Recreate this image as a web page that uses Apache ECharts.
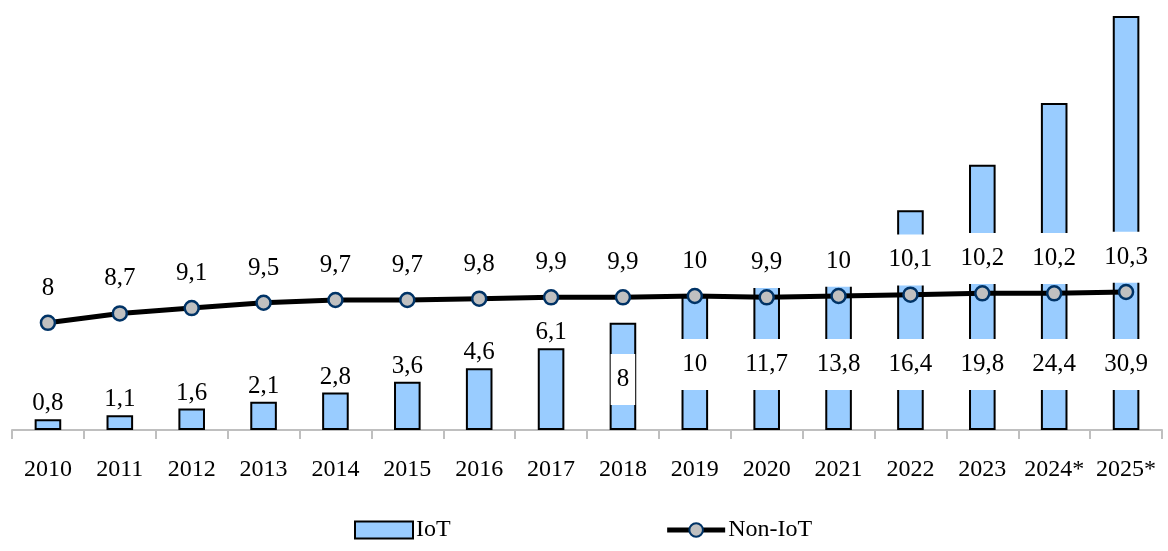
<!DOCTYPE html>
<html>
<head>
<meta charset="utf-8">
<script src="https://cdn.jsdelivr.net/npm/echarts@6/dist/echarts.min.js"></script>
<style>
    html, body { margin: 0; padding: 0; background: #fff; }
    #chart { width: 1168px; height: 551px; }
</style>
</head>
<body>
<div id="chart"></div>
<script>
// Chart data
// ------------------------------

var years = ['2010', '2011', '2012', '2013', '2014', '2015', '2016', '2017',
             '2018', '2019', '2020', '2021', '2022', '2023', '2024*', '2025*'];
var iotValues = [0.8, 1.1, 1.6, 2.1, 2.8, 3.6, 4.6, 6.1, 8, 10, 11.7, 13.8, 16.4, 19.8, 24.4, 30.9];
var nonIotValues = [8, 8.7, 9.1, 9.5, 9.7, 9.7, 9.8, 9.9, 9.9, 10, 9.9, 10, 10.1, 10.2, 10.2, 10.3];

var FONT = '"Liberation Serif", "Times New Roman", serif';

// comma decimal separator
var fmt = function(v) {
    return String(v).replace('.', ',');
};

// Bar data: small bars get label on top, tall bars inside with white box
var barData = iotValues.map(function(v) {
    if (v < 7) {
        return { value: v, label: { position: 'top', distance: 3 } };
    }
    return {
        value: v,
        label: {
            position: 'insideBottom',
            distance: v < 9 ? 25 : 40,
            backgroundColor: '#fff',
            padding: [13, 6]
        }
    };
});

var chart = echarts.init(document.getElementById('chart'));

chart.setOption({
    animation: false,
    textStyle: {
        fontFamily: FONT
    },

    grid: {
        left: 12,
        right: 6,
        top: 16,
        bottom: 121
    },

    legend: {
        left: 349,
        top: 513,
        itemWidth: 58,
        itemHeight: 17,
        itemGap: 214,
        textStyle: {
            fontFamily: FONT,
            fontSize: 24,
            color: '#000',
            padding: [0, 0, 0, -2]
        },
        data: [
            { name: 'IoT', icon: 'rect' },
            { name: 'Non-IoT', lineStyle: { color: '#000', width: 5 } }
        ]
    },

    xAxis: {
        type: 'category',
        data: years,
        axisLine: {
            lineStyle: { color: '#bfbfbf', width: 2 }
        },
        axisTick: {
            show: true,
            interval: 0,
            length: 9,
            lineStyle: { color: '#bfbfbf', width: 2 }
        },
        axisLabel: {
            interval: 0,
            color: '#000',
            fontFamily: FONT,
            fontSize: 24,
            margin: 28
        }
    },

    yAxis: {
        type: 'value',
        min: 0,
        max: 30.9,
        show: false,
        splitLine: { show: false }
    },

    series: [
        {
            name: 'IoT',
            type: 'bar',
            barWidth: '37%',
            z: 2,
            itemStyle: {
                color: '#99ccff',
                borderColor: '#000',
                borderWidth: 2
            },
            label: {
                show: true,
                color: '#000',
                fontFamily: FONT,
                fontSize: 25,
                formatter: function(p) { return fmt(p.value); }
            },
            data: barData
        },
        {
            name: 'Non-IoT',
            type: 'line',
            z: 5,
            symbol: 'circle',
            symbolSize: 14,
            lineStyle: { color: '#000', width: 5 },
            itemStyle: {
                color: '#c0c0c0',
                borderColor: '#003366',
                borderWidth: 2.5
            },
            label: {
                show: true,
                position: 'top',
                distance: 1,
                color: '#000',
                fontFamily: FONT,
                fontSize: 25,
                backgroundColor: '#fff',
                padding: [13, 6],
                formatter: function(p) { return fmt(p.value); }
            },
            data: nonIotValues
        }
    ]
});
</script>
</body>
</html>
